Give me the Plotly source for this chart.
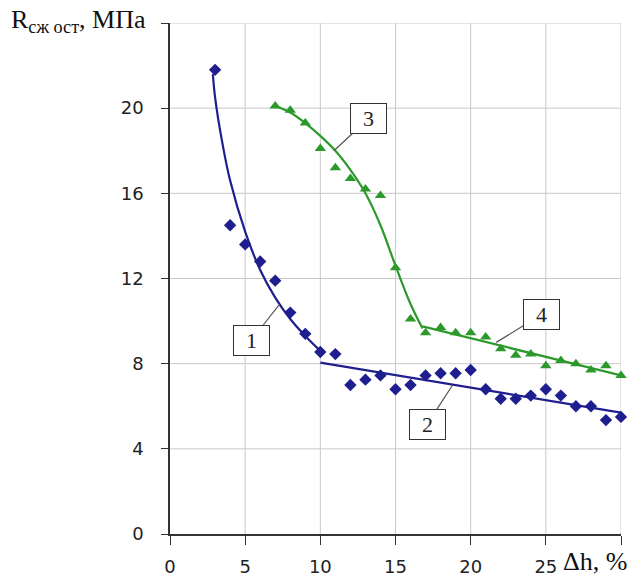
import plotly.graph_objects as go

# ---- data ----
blue_x = [3, 4, 5, 6, 7, 8, 9, 10, 11, 12, 13, 14, 15, 16, 17, 18, 19, 20,
          21, 22, 23, 24, 25, 26, 27, 28, 29, 30]
blue_y = [21.8, 14.5, 13.6, 12.8, 11.9, 10.4, 9.4, 8.55, 8.45, 7.0, 7.25, 7.45,
          6.8, 7.0, 7.45, 7.55, 7.55, 7.7, 6.8, 6.35, 6.35, 6.5, 6.8, 6.5,
          6.0, 6.0, 5.35, 5.5]

green_x = [7, 8, 9, 10, 11, 12, 13, 14, 15, 16, 17, 18, 19, 20, 21, 22, 23,
           24, 25, 26, 27, 28, 29, 30]
green_y = [20.1, 19.9, 19.3, 18.1, 17.2, 16.7, 16.2, 15.9, 12.5, 10.1, 9.45,
           9.7, 9.45, 9.45, 9.25, 8.7, 8.4, 8.45, 7.9, 8.15, 8.0, 7.7, 7.9, 7.45]

# trend curves
curve1_x = [2.85, 3, 3.5, 4, 5, 6, 7, 8, 9, 10]
curve1_y = [21.6, 20.5, 18.3, 16.6, 14.2, 12.4, 11.1, 10.1, 9.3, 8.6]
curve2_x = [10, 30]
curve2_y = [8.05, 5.7]
curve3_x = [7, 8, 9, 10, 11, 12, 13, 14, 15, 16, 16.8]
curve3_y = [20.1, 19.8, 19.3, 18.7, 18.0, 17.1, 16.0, 14.5, 12.6, 10.8, 9.65]
curve4_x = [16.8, 30]
curve4_y = [9.75, 7.45]

x_ticks = [0, 5, 10, 15, 20, 25, 30]
x_tick_text = ["0", "5", "10", "15", "20", "25", ""]
y_ticks = [0, 4, 8, 12, 16, 20, 24]
y_tick_text = ["0", "4", "8", "12", "16", "20", ""]

# callouts: label, box centre (x, y), pointed point (x, y)
callout_labels = ["1", "2", "3", "4"]
callout_box = [(5.4, 9.1), (17.1, 5.15), (13.2, 19.5), (24.7, 10.3)]
callout_tip = [(7.3, 10.8), (18.8, 7.0), (10.9, 18.0), (21.7, 9.0)]

BLUE = "#1e1e8f"
GREEN = "#2b9a2b"

fig = go.Figure()
fig.add_trace(go.Scatter(x=curve1_x, y=curve1_y, mode="lines",
                         line=dict(color=BLUE, width=2.2, shape="spline"),
                         showlegend=False, hoverinfo="skip"))
fig.add_trace(go.Scatter(x=curve2_x, y=curve2_y, mode="lines",
                         line=dict(color=BLUE, width=2.2),
                         showlegend=False, hoverinfo="skip"))
fig.add_trace(go.Scatter(x=curve3_x, y=curve3_y, mode="lines",
                         line=dict(color=GREEN, width=2.2, shape="spline"),
                         showlegend=False, hoverinfo="skip"))
fig.add_trace(go.Scatter(x=curve4_x, y=curve4_y, mode="lines",
                         line=dict(color=GREEN, width=2.2),
                         showlegend=False, hoverinfo="skip"))
fig.add_trace(go.Scatter(x=blue_x, y=blue_y, mode="markers",
                         marker=dict(symbol="diamond", size=9.5, color=BLUE),
                         showlegend=False, cliponaxis=False))
fig.add_trace(go.Scatter(x=green_x, y=green_y, mode="markers",
                         marker=dict(symbol="triangle-up", size=10, color=GREEN),
                         showlegend=False, cliponaxis=False))

annotations = []
for lab, (bx, by), (tx, ty) in zip(callout_labels, callout_box, callout_tip):
    annotations.append(dict(
        x=tx, y=ty, xref="x", yref="y", ax=bx, ay=by, axref="x", ayref="y",
        text=lab, showarrow=True, arrowhead=0, arrowwidth=1.2,
        arrowcolor="#555555",
        font=dict(family="Liberation Serif", size=22, color="#222222"),
        bgcolor="white", bordercolor="#333333", borderwidth=1,
        width=31, height=25, borderpad=2))

annotations.append(dict(
    x=-0.356, y=1.004, xref="paper", yref="paper", xanchor="left",
    yanchor="middle", showarrow=False,
    text="R<sub>сж ост</sub>, МПа",
    font=dict(family="Liberation Serif", size=26, color="#111111")))
annotations.append(dict(
    x=0.868, y=-0.054, xref="paper", yref="paper", xanchor="left",
    yanchor="middle", showarrow=False, text="Δh, %",
    font=dict(family="Liberation Serif", size=26, color="#111111")))

fig.update_layout(
    width=644, height=578,
    margin=dict(l=170, r=23, t=23, b=44, autoexpand=False),
    paper_bgcolor="white", plot_bgcolor="white",
    annotations=annotations,
    xaxis=dict(range=[0, 30], tickvals=x_ticks, ticktext=x_tick_text,
               showgrid=False, automargin=False,
               showline=True, linecolor="#333333", linewidth=1.5,
               ticks="outside", ticklen=9, tickcolor="#333333",
               tickfont=dict(family="DejaVu Sans", size=18, color="#222222"),
               ticklabelstandoff=7, zeroline=False, fixedrange=True),
    yaxis=dict(range=[0, 24], tickvals=y_ticks, ticktext=y_tick_text,
               showgrid=False, automargin=False,
               showline=True, linecolor="#333333", linewidth=1.5,
               ticks="outside", ticklen=7, tickcolor="#333333",
               tickfont=dict(family="DejaVu Sans", size=18, color="#222222"),
               ticklabelstandoff=14, zeroline=False, fixedrange=True),
)

# grid lines drawn as shapes on axis ticks (behind data)
for gx in x_ticks[1:]:
    fig.add_shape(type="line", x0=gx, x1=gx, y0=0, y1=24, xref="x", yref="y",
                  line=dict(color="#c8c8c8", width=1), layer="below")
for gy in y_ticks[1:]:
    fig.add_shape(type="line", x0=0, x1=30, y0=gy, y1=gy, xref="x", yref="y",
                  line=dict(color="#c8c8c8", width=1), layer="below")

fig.write_html("out.html",
               config={"displayModeBar": False},
               post_script="document.body.style.margin='0';"
                           "document.body.style.overflow='hidden';")
